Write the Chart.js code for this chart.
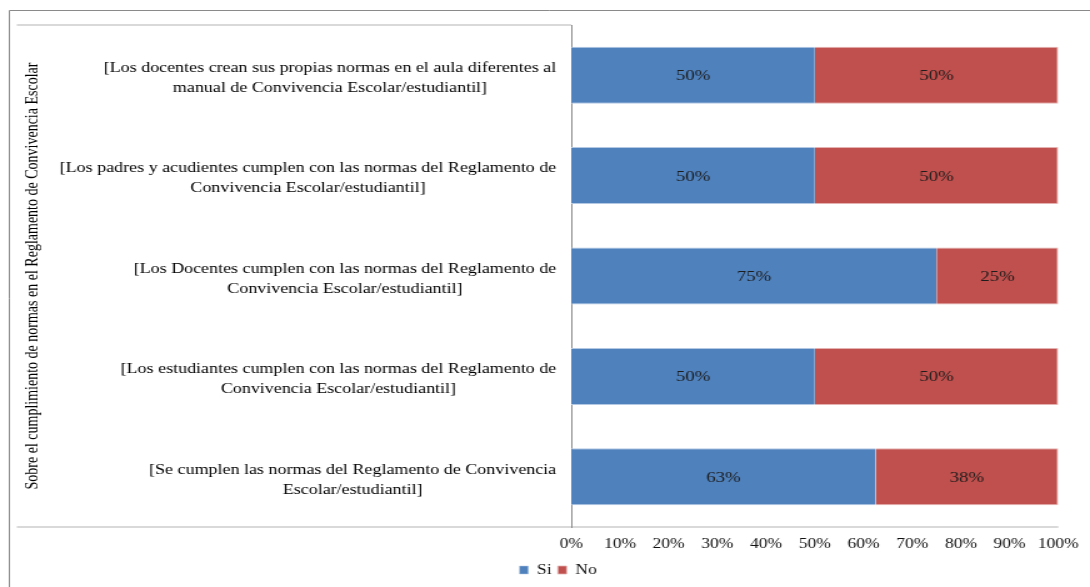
<!DOCTYPE html>
<html>
<head>
<meta charset="utf-8">
<script src="https://cdn.jsdelivr.net/npm/chart.js@4.4.1/dist/chart.umd.min.js"></script>
<style>
  html, body { margin: 0; padding: 0; background: #fff; }
  #reglamento { display: block; }
</style>
</head>
<body>
<!-- drawn 872px wide, shown stretched to the full 1090px -->
<canvas id="reglamento" width="872" height="587" style="width:1090px;height:587px"></canvas>
<script>
// survey answers per statement, top to bottom
const categories = [
    ['[Los docentes crean sus propias normas en el aula diferentes al', 'manual de Convivencia Escolar/estudiantil]'],
    ['[Los padres y acudientes cumplen con las normas del Reglamento de', 'Convivencia Escolar/estudiantil]'],
    ['[Los Docentes cumplen con las normas del Reglamento de', 'Convivencia Escolar/estudiantil]'],
    ['[Los estudiantes cumplen con las normas del Reglamento de', 'Convivencia Escolar/estudiantil]'],
    ['[Se cumplen las normas del Reglamento de Convivencia', 'Escolar/estudiantil]']
];
const seriesNames = ['Si', 'No'];
const siValues = [50, 50, 75, 50, 62.5];
const noValues = [50, 50, 25, 50, 37.5];
const axisTitle = 'Sobre el cumplimiento de normas en el Reglamento de Convivencia Escolar';
const tickStep = 10;

const serif = 'Liberation Serif';

// white background, outer frame and the light rules above/below the plot
const framePlugin = {
    id: 'frame',
    beforeDraw(chart) {
        const { ctx, chartArea } = chart;
        ctx.save();
        ctx.fillStyle = '#fff';
        ctx.fillRect(0, 0, chart.width, chart.height);

        ctx.strokeStyle = '#8a8a8a';
        ctx.lineWidth = 1;
        ctx.beginPath();
        ctx.moveTo(7.5, chart.height);
        ctx.lineTo(7.5, 10.5);
        ctx.lineTo(chart.width, 10.5);
        ctx.stroke();

        ctx.strokeStyle = '#d9d9d9';
        ctx.lineWidth = 2;
        ctx.beginPath();
        ctx.moveTo(13.5, chartArea.top);
        ctx.lineTo(chartArea.left, chartArea.top);
        ctx.moveTo(13.5, chartArea.bottom);
        ctx.lineTo(chartArea.right, chartArea.bottom);
        ctx.stroke();
        ctx.restore();
    }
};

// category labels (centred lines, right edge next to the axis) and rotated axis title
const labelPlugin = {
    id: 'categoryLabels',
    afterDraw(chart) {
        const { ctx, chartArea } = chart;
        const yScale = chart.scales.y;
        ctx.save();
        ctx.fillStyle = '#000';
        ctx.font = '14.4px "' + serif + '"';
        ctx.textBaseline = 'middle';
        ctx.textAlign = 'center';
        chart.data.labels.forEach((lines, i) => {
            const y = yScale.getPixelForValue(i) + 3;
            const widest = Math.max(...lines.map(l => ctx.measureText(l).width));
            const cx = chartArea.left - 12 - widest / 2;
            lines.forEach((line, k) => {
                ctx.fillText(line, cx, y + (k - (lines.length - 1) / 2) * 20);
            });
        });

        ctx.font = '14px "' + serif + '"';
        ctx.translate(26.5, (chartArea.top + chartArea.bottom) / 2);
        ctx.rotate(-Math.PI / 2);
        ctx.fillText(axisTitle, 0, 0);
        ctx.restore();
    }
};

// percentage printed in the middle of every segment
const valuePlugin = {
    id: 'segmentValues',
    afterDatasetsDraw(chart) {
        const { ctx } = chart;
        ctx.save();
        ctx.fillStyle = '#1c1c1c';
        ctx.font = '15px "' + serif + '"';
        ctx.textAlign = 'center';
        ctx.textBaseline = 'middle';
        chart.data.datasets.forEach((ds, di) => {
            chart.getDatasetMeta(di).data.forEach((bar, i) => {
                const x = (bar.x + bar.base) / 2;
                ctx.fillText(Math.round(ds.data[i]) + '%', x, bar.y + 1);
            });
        });
        ctx.restore();
    }
};

new Chart(document.getElementById('reglamento'), {
    type: 'bar',
    data: {
        labels: categories,
        datasets: [
            {
                label: seriesNames[0],
                data: siValues,
                backgroundColor: '#4f81bd',
                borderColor: '#b3c8e3',
                borderWidth: { top: 1, bottom: 1, left: 0, right: 0 },
                borderSkipped: false,
                barPercentage: 0.568,
                categoryPercentage: 1
            },
            {
                label: seriesNames[1],
                data: noValues,
                backgroundColor: '#c0504d',
                borderColor: '#e4b3b1',
                borderWidth: { top: 1, bottom: 1, left: 0, right: 1 },
                borderSkipped: false,
                barPercentage: 0.568,
                categoryPercentage: 1
            }
        ]
    },
    options: {
        indexAxis: 'y',
        responsive: false,
        devicePixelRatio: 1,
        animation: false,
        layout: {
            padding: { top: 25, left: 45, right: 24, bottom: 0 }
        },
        scales: {
            x: {
                stacked: true,
                min: 0,
                max: 100,
                ticks: {
                    stepSize: tickStep,
                    callback: v => v + '%',
                    color: '#111',
                    font: { family: serif, size: 14 },
                    padding: 9,
                    maxRotation: 0
                },
                grid: { display: false, drawTicks: false },
                border: { display: false },
                afterFit(scale) {
                    scale.height = 587 - 527 - scale.chart.legend.height;
                }
            },
            y: {
                stacked: true,
                ticks: { display: false },
                grid: { display: false, drawTicks: false },
                border: { display: true, color: '#8a8a8a', width: 1 },
                afterFit(scale) {
                    scale.width = 412;
                }
            }
        },
        plugins: {
            legend: {
                position: 'bottom',
                labels: {
                    boxWidth: 7,
                    boxHeight: 8,
                    padding: 5,
                    color: '#111',
                    font: { family: serif, size: 14 }
                }
            },
            tooltip: { enabled: false }
        }
    },
    plugins: [framePlugin, labelPlugin, valuePlugin]
});
</script>
</body>
</html>
